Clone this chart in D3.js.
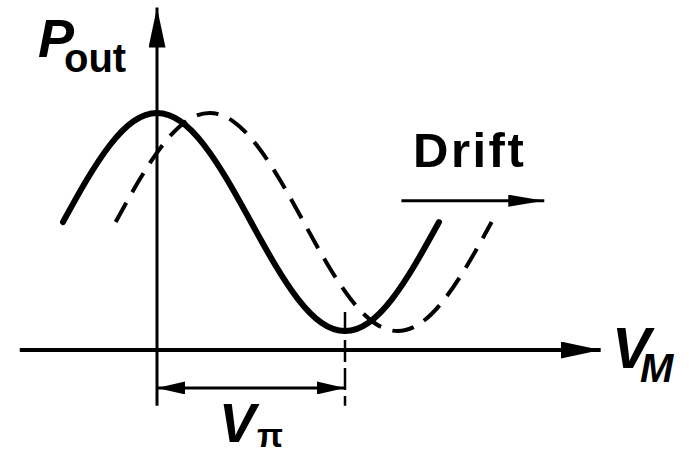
<!DOCTYPE html>
<html>
<head>
<meta charset="utf-8">
<script src="https://cdn.jsdelivr.net/npm/d3@7"></script>
<style>
  html, body { margin: 0; padding: 0; background: #fff; }
  svg { display: block; }
  text { font-family: "Liberation Sans", Arial, Helvetica, sans-serif; font-weight: bold; fill: #000; }
</style>
</head>
<body>
<svg id="chart" width="689" height="454"></svg>
<script>
// Modulator transfer curve, bias voltage in units of V_pi, output power normalised to the peak
const vSolid = [-0.5, -0.375, -0.25, -0.125, 0, 0.125, 0.25, 0.375, 0.5, 0.625, 0.75, 0.875, 1, 1.125, 1.25, 1.375, 1.5];
const pSolid = [0.54, 0.716, 0.865, 0.965, 1.0, 0.965, 0.865, 0.716, 0.54, 0.364, 0.215, 0.115, 0.08, 0.115, 0.215, 0.364, 0.54];

// Same curve after the bias point has drifted
const vDrift = [-0.22, -0.095, 0.03, 0.155, 0.28, 0.405, 0.53, 0.655, 0.78, 0.905, 1.03, 1.155, 1.28, 1.405, 1.53, 1.655, 1.78];
const pDrift = [0.54, 0.716, 0.865, 0.965, 1.0, 0.965, 0.865, 0.716, 0.54, 0.364, 0.215, 0.115, 0.08, 0.115, 0.215, 0.364, 0.54];

// Axis extents and annotation positions in data units
const vAxisSpan = [-0.73, 2.36];
const pAxisSpan = [-0.235, 1.445];
const driftArrowV = [1.30, 2.06];
const driftArrowP = 0.63;
const vPiMarkP = -0.16;
const vPi = 1;

const svg = d3.select("#chart");
const x = d3.scaleLinear().domain([0, 1]).range([157, 345]);
const y = d3.scaleLinear().domain([0, 1]).range([350, 113]);

const defs = svg.append("defs");
function arrowMarker(id, len, half, orient) {
  defs.append("marker")
    .attr("id", id)
    .attr("viewBox", `0 ${-half} ${len} ${2 * half}`)
    .attr("refX", len).attr("refY", 0)
    .attr("markerUnits", "userSpaceOnUse")
    .attr("markerWidth", len).attr("markerHeight", 2 * half)
    .attr("orient", orient)
    .append("path")
    .attr("d", `M0,${-half} L${len},0 L0,${half} Z`)
    .attr("fill", "#000");
}
arrowMarker("axisHead", 40, 8.5, "auto");
arrowMarker("driftHead", 36, 6, "auto");
arrowMarker("dimHead", 28, 6.5, "auto-start-reverse");

const line = d3.line()
  .x(d => x(d[0]))
  .y(d => y(d[1]))
  .curve(d3.curveNatural);

// Horizontal axis (V_M)
svg.append("line")
  .attr("x1", x(vAxisSpan[0])).attr("x2", x(vAxisSpan[1]))
  .attr("y1", y(0)).attr("y2", y(0))
  .attr("stroke", "#000").attr("stroke-width", 4)
  .attr("marker-end", "url(#axisHead)");

// Vertical axis (P_out)
svg.append("line")
  .attr("x1", x(0)).attr("x2", x(0))
  .attr("y1", y(pAxisSpan[0])).attr("y2", y(pAxisSpan[1]))
  .attr("stroke", "#000").attr("stroke-width", 3)
  .attr("marker-end", "url(#axisHead)");

// Drifted transfer curve (dashed)
svg.append("path")
  .datum(vDrift.map((v, i) => [v, pDrift[i]]))
  .attr("d", line)
  .attr("fill", "none").attr("stroke", "#000")
  .attr("stroke-width", 4)
  .attr("stroke-dasharray", "22,12");

// Original transfer curve (solid)
svg.append("path")
  .datum(vSolid.map((v, i) => [v, pSolid[i]]))
  .attr("d", line)
  .attr("fill", "none").attr("stroke", "#000")
  .attr("stroke-width", 6)
  .attr("stroke-linecap", "round");

// Guide line at V = V_pi
svg.append("line")
  .attr("x1", x(vPi)).attr("x2", x(vPi))
  .attr("y1", y(0.16)).attr("y2", y(pAxisSpan[0]))
  .attr("stroke", "#000").attr("stroke-width", 2.5)
  .attr("stroke-dasharray", "22,6");

// V_pi dimension arrow
svg.append("line")
  .attr("x1", x(0)).attr("x2", x(vPi))
  .attr("y1", y(vPiMarkP)).attr("y2", y(vPiMarkP))
  .attr("stroke", "#000").attr("stroke-width", 3)
  .attr("marker-start", "url(#dimHead)")
  .attr("marker-end", "url(#dimHead)");

// Drift arrow
svg.append("line")
  .attr("x1", x(driftArrowV[0])).attr("x2", x(driftArrowV[1]))
  .attr("y1", y(driftArrowP)).attr("y2", y(driftArrowP))
  .attr("stroke", "#000").attr("stroke-width", 3)
  .attr("marker-end", "url(#driftHead)");

// Labels
svg.append("text").attr("x", 38).attr("y", 57)
  .attr("font-size", 54).attr("font-style", "italic").text("P");
svg.append("text").attr("x", 64).attr("y", 72)
  .attr("font-size", 40).text("out");

svg.append("text")
  .attr("x", 413).attr("y", 167)
  .attr("font-size", 49)
  .attr("letter-spacing", 2.5)
  .text("Drift");

svg.append("text").attr("x", 612).attr("y", 368)
  .attr("font-size", 58).attr("font-style", "italic").text("V");
svg.append("text").attr("x", 640).attr("y", 382)
  .attr("font-size", 40).attr("font-style", "italic").text("M");

svg.append("text").attr("x", 219).attr("y", 442)
  .attr("font-size", 55).attr("font-style", "italic").text("V");
svg.append("text").attr("x", 257).attr("y", 447)
  .attr("font-size", 34).text("π");
</script>
</body>
</html>
